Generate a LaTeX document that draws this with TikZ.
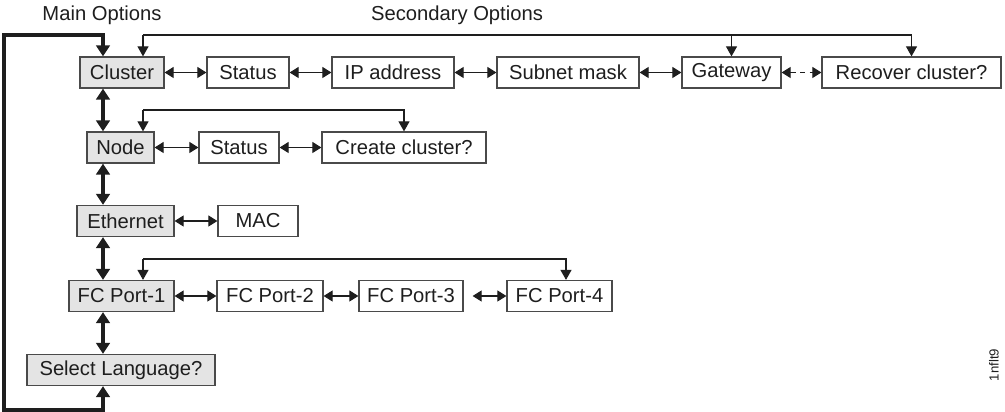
\documentclass[tikz,border=0pt]{standalone}
\usepackage{fontspec}
\setmainfont{Liberation Sans}
\usetikzlibrary{arrows.meta}
\definecolor{ink}{HTML}{1E1E1E}
\definecolor{boxline}{HTML}{4A4A4A}
\definecolor{mainfill}{HTML}{E4E4E4}

\begin{document}
\begin{tikzpicture}[
    box/.style={draw=boxline, line width=0.7pt, inner sep=0pt, minimum height=0.62cm, text=ink, font=\fontsize{11.5}{13}\selectfont},
    mainbox/.style={box, fill=mainfill},
    subbox/.style={box, fill=white},
    harr/.style={draw=ink, line width=0.6pt, {Triangle[length=1.8mm, width=2.2mm]}-{Triangle[length=1.8mm, width=2.2mm]}},
    varr/.style={draw=ink, line width=2pt, {Triangle[length=2.2mm, width=2.7mm]}-{Triangle[length=2.2mm, width=2.7mm]}},
    loopline/.style={draw=ink, line width=0.6pt},
    downtip/.style={loopline, -{Triangle[length=2mm, width=2.2mm]}},
    title/.style={text=ink, font=\fontsize{11.5}{13}\selectfont}
  ]
    \useasboundingbox (0,0) rectangle (20.1,-8.24);

    \node[title] (maintitle) at (2.04,-0.30) {Main Options};
    \node[title] (subtitle) at (9.14,-0.30) {Secondary Options};

    \coordinate (spine) at (2.06,0);
    \coordinate (lt) at (0.08,-0.70);
    \coordinate (lb) at (0.08,-8.20);

    \node[mainbox, minimum width=1.68cm] (cluster) at (2.44,-1.45) {Cluster};
    \node[subbox, minimum width=1.64cm] (status1) at (4.96,-1.45) {Status};
    \node[subbox, minimum width=2.44cm] (ipaddr) at (7.86,-1.45) {IP address};
    \node[subbox, minimum width=2.84cm] (subnet) at (11.36,-1.45) {Subnet mask};
    \node[subbox, minimum width=1.98cm] (gateway) at (14.63,-1.45) {Gateway};
    \node[subbox, minimum width=3.58cm] (recover) at (18.23,-1.45) {Recover cluster?};

    \node[mainbox, minimum width=1.34cm] (nodeopt) at (2.41,-2.95) {Node};
    \node[subbox, minimum width=1.60cm] (status2) at (4.78,-2.95) {Status};
    \node[subbox, minimum width=3.28cm] (create) at (8.08,-2.95) {Create cluster?};

    \node[mainbox, minimum width=1.94cm] (ethernet) at (2.51,-4.42) {Ethernet};
    \node[subbox, minimum width=1.60cm] (mac) at (5.16,-4.42) {MAC};

    \node[mainbox, minimum width=2.10cm] (fc1) at (2.43,-5.92) {FC Port-1};
    \node[subbox, minimum width=2.12cm] (fc2) at (5.40,-5.92) {FC Port-2};
    \node[subbox, minimum width=2.08cm] (fc3) at (8.22,-5.92) {FC Port-3};
    \node[subbox, minimum width=2.10cm] (fc4) at (11.19,-5.92) {FC Port-4};

    \node[mainbox, minimum width=3.76cm] (lang) at (2.42,-7.40) {Select Language?};

    \node[text=ink, font=\fontsize{7.5}{9}\selectfont, rotate=90] (figid) at (19.88,-7.30) {1nflt9};

    \draw[harr] (cluster) -- (status1);
    \draw[harr] (status1) -- (ipaddr);
    \draw[harr] (ipaddr) -- (subnet);
    \draw[harr] (subnet) -- (gateway);
    \draw[harr, dashed, dash pattern=on 3pt off 2.5pt] (gateway) -- (recover);
    \draw[harr] (nodeopt) -- (status2);
    \draw[harr] (status2) -- (create);
    \draw[harr] (ethernet) -- (mac);
    \draw[harr] (fc1) -- (fc2);
    \draw[harr] (fc2) -- (fc3);
    \draw[harr, shorten <=0.18cm] (fc3) -- (fc4);

    \draw[varr] (cluster.south -| spine) -- (nodeopt.north -| spine);
    \draw[varr] (nodeopt.south -| spine) -- (ethernet.north -| spine);
    \draw[varr] (ethernet.south -| spine) -- (fc1.north -| spine);
    \draw[varr] (fc1.south -| spine) -- (lang.north -| spine);
    \draw[varr, line join=miter] (lang.south -| spine) -- (spine |- lb) -- (lb) -- (lt) -- (spine |- lt) -- (cluster.north -| spine);

    \coordinate (r1) at (2.86,-0.70);
    \draw[downtip] (r1) -- (r1 |- cluster.north);
    \draw[downtip] (r1) -| (recover.north);
    \draw[downtip] (r1 -| gateway.north) -- (gateway.north);

    \coordinate (r2) at (2.86,-2.20);
    \draw[downtip] (r2) -- (r2 |- nodeopt.north);
    \draw[downtip] (r2) -| (create.north);

    \coordinate (r4) at (2.86,-5.18);
    \coordinate (r4end) at (11.32,-5.18);
    \draw[downtip] (r4) -- (r4 |- fc1.north);
    \draw[downtip] (r4) -- (r4end) -- (r4end |- fc4.north);
  \end{tikzpicture}
\end{document}
